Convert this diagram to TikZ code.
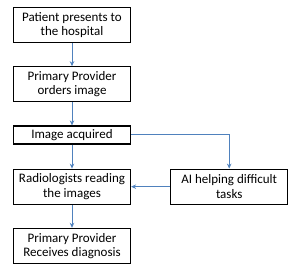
\documentclass[tikz,border=0pt]{standalone}
\usepackage{fontspec}
\setmainfont{Carlito}
\usepackage{xcolor}
\usetikzlibrary{arrows.meta,positioning}
\definecolor{flowblue}{HTML}{4F81BD}
\definecolor{flowink}{HTML}{000000}

\begin{document}
\begin{tikzpicture}[
  x=1pt,y=1pt,
  >={Stealth[length=5pt,width=4.5pt]},
  stepbox/.style={draw=flowink,line width=1.2pt,minimum width=117pt,
    minimum height=18pt,inner xsep=3pt,inner ysep=2.5pt,align=center,
    font=\fontsize{13}{14.5}\selectfont},
  tallbox/.style={stepbox,minimum height=35pt},
  flow/.style={->,flowblue,line width=1pt},
  node distance=23pt
]
  \useasboundingbox (0,0) rectangle (300,-275);

  \node[tallbox,anchor=north] (patient) at (72,-7) {Patient presents to\\the hospital};
  \node[tallbox,below=of patient] (orders) {Primary Provider\\orders image};
  \node[stepbox,below=of orders] (acquired) {Image acquired};
  \node[tallbox,below=24pt of acquired] (reading) {Radiologists reading\\the images};
  \node[tallbox,below=of reading] (diagnosis) {Primary Provider\\Receives diagnosis};
  \node[tallbox,right=39pt of reading] (ai) {AI helping difficult\\tasks};

  \draw[flow] (patient) -- (orders);
  \draw[flow] (orders) -- (acquired);
  \draw[flow] (acquired) -- (reading);
  \draw[flow] (reading) -- (diagnosis);
  \draw[flow] (acquired.east) -| (ai.north);
  \draw[flow] (ai) -- (reading);
\end{tikzpicture}
\end{document}
